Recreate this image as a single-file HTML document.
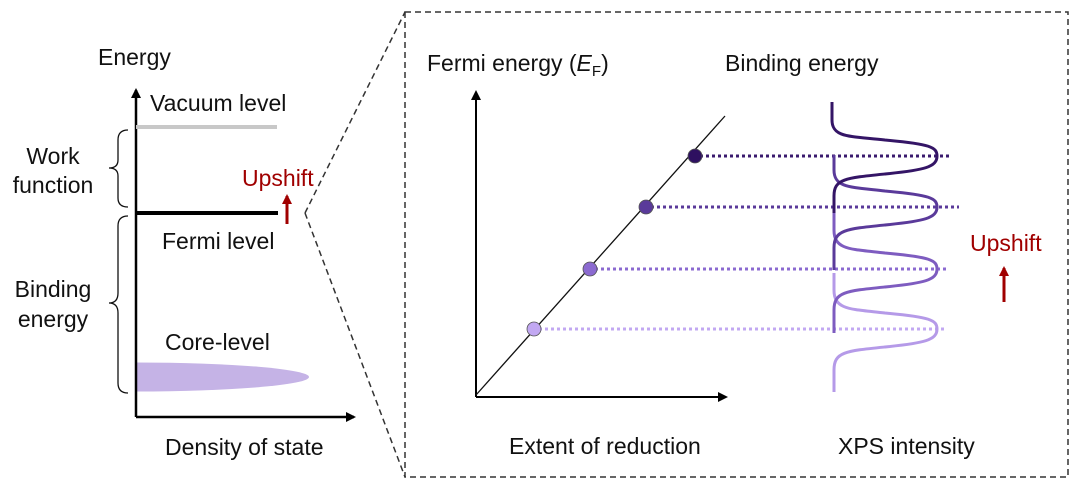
<!DOCTYPE html>
<html><head><meta charset="utf-8"><style>
html,body{margin:0;padding:0;background:#fff;}
svg{display:block;}
text{font-family:"Liberation Sans",Arial,sans-serif;font-size:23px;fill:#111;}
</style></head><body>
<svg width="1080" height="489" viewBox="0 0 1080 489" xmlns="http://www.w3.org/2000/svg">
<defs>
<marker id="ar" markerWidth="10" markerHeight="10" refX="8" refY="5" orient="auto" markerUnits="userSpaceOnUse">
<path d="M0,0 L10,5 L0,10 z" fill="#000"/></marker>
<marker id="rr" markerWidth="10" markerHeight="10" refX="8" refY="5" orient="auto" markerUnits="userSpaceOnUse">
<path d="M0,0 L10,5 L0,10 z" fill="#a00000"/></marker>
<clipPath id="cl"><rect x="136" y="300" width="300" height="120"/></clipPath>
</defs>
<g stroke="#333" stroke-width="1.5" stroke-dasharray="6,4" fill="none">
<rect x="405" y="12" width="663" height="465"/>
<line x1="305" y1="213" x2="405" y2="12"/>
<line x1="305" y1="213" x2="405" y2="477"/>
</g>
<ellipse cx="136" cy="377" rx="173" ry="14.5" fill="#c5b3e6" clip-path="url(#cl)"/>
<line x1="136" y1="417" x2="136" y2="90" stroke="#000" stroke-width="2.5" marker-end="url(#ar)"/>
<line x1="136" y1="417" x2="354" y2="417" stroke="#000" stroke-width="2.5" marker-end="url(#ar)"/>
<line x1="136" y1="127" x2="277" y2="127" stroke="#c8c8c8" stroke-width="4"/>
<line x1="136" y1="213" x2="278" y2="213" stroke="#000" stroke-width="4"/>
<line x1="287" y1="224" x2="287" y2="196" stroke="#a00000" stroke-width="3" marker-end="url(#rr)"/>
<path d="M128,130 Q118,130 118,140 L118,160 Q118,168 109,168 Q118,168 118,176 L118,198 Q118,207 128,207" fill="none" stroke="#111" stroke-width="1.3"/>
<path d="M128,216 Q118,216 118,226 L118,293 Q118,303 109,303 Q118,303 118,313 L118,383 Q118,393 128,393" fill="none" stroke="#111" stroke-width="1.3"/>
<text x="98" y="65">Energy</text>
<text x="150" y="111">Vacuum level</text>
<text x="53" y="164" text-anchor="middle">Work</text>
<text x="53" y="193" text-anchor="middle">function</text>
<text x="242" y="186" style="fill:#a00000">Upshift</text>
<text x="162" y="249">Fermi level</text>
<text x="53" y="297" text-anchor="middle">Binding</text>
<text x="53" y="327" text-anchor="middle">energy</text>
<text x="165" y="350">Core-level</text>
<text x="165" y="455">Density of state</text>
<line x1="476" y1="397" x2="476" y2="92" stroke="#000" stroke-width="2" marker-end="url(#ar)"/>
<line x1="476" y1="397" x2="726" y2="397" stroke="#000" stroke-width="2" marker-end="url(#ar)"/>
<line x1="476" y1="395" x2="725" y2="116" stroke="#111" stroke-width="1.3"/>
<g stroke-width="3" stroke-dasharray="3,3">
<line x1="700" y1="156" x2="949" y2="156" stroke="#3a1a6e"/>
<line x1="651" y1="207" x2="959" y2="207" stroke="#5a3a9a"/>
<line x1="595" y1="269" x2="949" y2="269" stroke="#8b6ad0"/>
<line x1="539" y1="329" x2="945" y2="329" stroke="#c2a8f2"/>
</g>
<g stroke="#555" stroke-width="0.8">
<circle cx="695" cy="156" r="7" fill="#2e1060"/>
<circle cx="646" cy="207" r="7" fill="#5a3a9a"/>
<circle cx="590" cy="269" r="7" fill="#8b6ad0"/>
<circle cx="534" cy="329" r="7" fill="#c2a8f2"/>
</g>
<text x="427" y="71">Fermi energy (<tspan font-style="italic">E</tspan><tspan font-size="15" dy="5">F</tspan><tspan dy="-5">)</tspan></text>
<text x="509" y="454">Extent of reduction</text>
<g fill="none" stroke-width="3">
<path d="M834,273 L834,290 C834,310 850,309 885,313 C930,317 937,320 937,329 C937,340 925,343 885,347 C845,351 834,352 834,370 L834,392" stroke="#b59ae8"/>
<path d="M834,207 L834,230 C834,250 850,249 885,253 C930,257 937,260 937,269 C937,280 925,283 885,287 C845,291 834,292 834,310 L834,333" stroke="#7e5cc0"/>
<path d="M834,155 L834,170 C834,188 850,187 885,191 C930,195 937,198 937,207 C937,218 925,221 885,225 C845,229 834,230 834,248 L834,270" stroke="#5a3a9a"/>
<path d="M832,102 L832,120 C832,138 850,136 885,140 C930,144 937,147 937,156 C937,167 925,170 885,174 C845,178 834,179 834,196 L834,213" stroke="#341566"/>
</g>
<text x="725" y="71">Binding energy</text>
<text x="838" y="454">XPS intensity</text>
<text x="970" y="251" style="fill:#a00000">Upshift</text>
<line x1="1004" y1="302" x2="1004" y2="268" stroke="#a00000" stroke-width="3" marker-end="url(#rr)"/>
</svg>
</body></html>
